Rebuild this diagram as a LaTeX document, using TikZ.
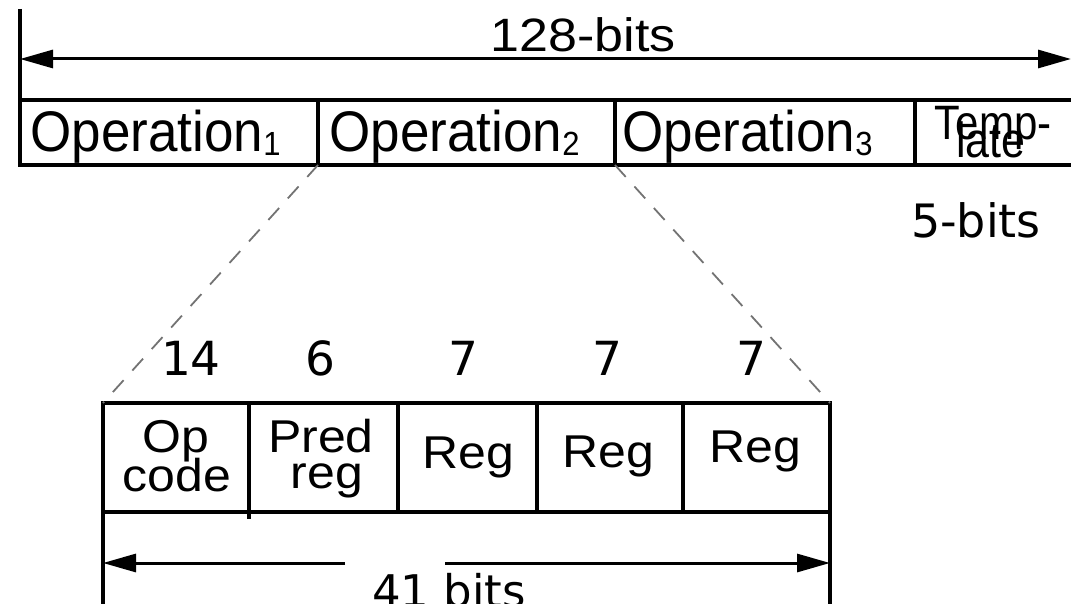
\documentclass[tikz,border=0pt]{standalone}
\usepackage{fontspec}
\setmainfont{Liberation Sans}
\newfontfamily\dejavu{DejaVu Sans}
\usetikzlibrary{arrows.meta}

% font size helper (sizes in pt)
\newcommand\fsz[1]{\fontsize{#1pt}{#1pt}\selectfont}
% label with a vertical stretch factor
\newcommand\vs[2]{\scalebox{1}[#1]{#2}}

\begin{document}
\begin{tikzpicture}[x=1pt,y=-1pt,
  cell/.style={draw, line width=3.6pt, inner sep=0pt, outer sep=0pt, anchor=north west},
  rule/.style={line width=3.6pt},
  lbl/.style={inner sep=0pt, outer sep=0pt, anchor=base},
  num/.style={lbl, font=\dejavu\fsz{47}},
  zoomline/.style={draw=black!55, line width=1.8pt, dash pattern=on 16pt off 13pt},
  tip/.tip={Triangle[length=33pt,width=18pt]},
  dim/.style={line width=3pt, tip-tip},
  halfdim/.style={line width=3pt, -tip}
]
\useasboundingbox (0,0) rectangle (1071,604);

% ---- 128-bit bundle ----
\node[cell, minimum width=298pt, minimum height=65pt] (op1) at (20,100) {};
\node[cell, minimum width=297pt, minimum height=65pt] (op2) at (318,100) {};
\node[cell, minimum width=300pt, minimum height=65pt] (op3) at (615,100) {};
\node[cell, minimum width=170pt, minimum height=65pt] (tmpl) at (915,100) {};

\node[lbl, anchor=base west] (op1t) at (30.5,152)
  {\vs{1.08}{\fsz{53}Operation\raisebox{-3pt}{\fsz{31}1}}};
\node[lbl, anchor=base west] (op2t) at (329.5,152)
  {\vs{1.08}{\fsz{53}Operation\raisebox{-3pt}{\fsz{31}2}}};
\node[lbl, anchor=base west] (op3t) at (622.5,152)
  {\vs{1.08}{\fsz{53}Operation\raisebox{-3pt}{\fsz{31}3}}};
\node[lbl] (tmplA) at (993,140) {\vs{1.15}{\fsz{42}Temp-}};
\node[lbl] (tmplB) at (991,158) {\vs{1.15}{\fsz{43}late}};

% overall width marker
\coordinate (topend) at (20,9);
\draw[rule] (topend) -- (op1.north west);
\coordinate (w128L) at (20,59);
\coordinate (w128R) at (1071,59);
\draw[dim] (w128L) -- (w128R);
\node[lbl] (w128) at (583,52) {\vs{0.9}{\fsz{52}128-bits}};

\node[lbl] (w5) at (976,238) {\dejavu\fsz{46}5-bits};

% ---- 41-bit operation ----
\node[cell, minimum width=146pt, minimum height=109pt] (f1) at (103,403) {};
\node[cell, minimum width=149pt, minimum height=109pt] (f2) at (249,403) {};
\node[cell, minimum width=139pt, minimum height=109pt] (f3) at (398,403) {};
\node[cell, minimum width=146pt, minimum height=109pt] (f4) at (537,403) {};
\node[cell, minimum width=147pt, minimum height=109pt] (f5) at (683,403) {};

\node[lbl] (f1a) at (176,452) {\vs{0.92}{\fsz{50}Op}};
\node[lbl] (f1b) at (177,491) {\vs{0.92}{\fsz{50}code}};
\node[lbl] (f2a) at (321,452) {\vs{0.92}{\fsz{50}Pred}};
\node[lbl] (f2b) at (327,488) {\vs{0.92}{\fsz{50}reg}};
\node[lbl] (f3t) at (468,468) {\vs{0.92}{\fsz{50}Reg}};
\node[lbl] (f4t) at (608,467) {\vs{0.92}{\fsz{50}Reg}};
\node[lbl] (f5t) at (755,462) {\vs{0.92}{\fsz{50}Reg}};

\node[num] (n1) at (191,375) {14};
\node[num] (n2) at (320,375) {6};
\node[num] (n3) at (463,375) {7};
\node[num] (n4) at (607,375) {7};
\node[num] (n5) at (751,375) {7};

% expansion of Operation 2
\draw[zoomline] (op1.south east) -- (f1.north west);
\draw[zoomline] (op2.south east) -- (f5.north east);

% width marker below
\coordinate (botL) at (103,604);
\coordinate (botR) at (830,604);
\draw[rule] (f1.south west) -- (botL);
\draw[rule] (f5.south east) -- (botR);
\draw[rule] (f1.south east) -- ++(0,7);

\coordinate (w41L) at (103,563);
\coordinate (w41La) at (345,563);
\coordinate (w41Rb) at (445,563);
\coordinate (w41R) at (830,563);
\draw[halfdim] (w41La) -- (w41L);
\draw[halfdim] (w41Rb) -- (w41R);
\node[lbl] (w41) at (449,607) {\dejavu\fsz{45}41 bits};
\end{tikzpicture}
\end{document}
